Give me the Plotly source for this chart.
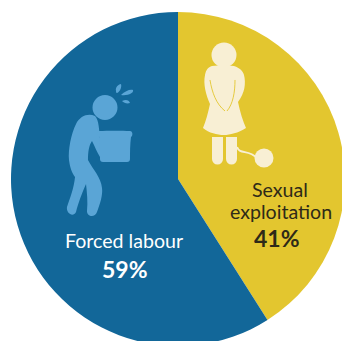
import plotly.graph_objects as go

categories = ["Sexual<br>exploitation", "Forced labour"]
shares = [41, 59]
slice_colors = ["#E3C62F", "#126799"]

# The circle runs slightly past the right and bottom of the 342x341 view.
W, H = 346, 347
LIGHT_BLUE = "#5AA5D6"
CREAM = "#F8EFD4"
YELLOW = slice_colors[0]
BLUE = slice_colors[1]
INK = "#2E2A18"


def px(x):
    return x / W


def py(y):
    return 1 - y / H


def path(points, close=True):
    parts = [f"{'M' if i == 0 else 'L'} {px(x):.4f} {py(y):.4f}" for i, (x, y) in enumerate(points)]
    return " ".join(parts) + (" Z" if close else "")


def curve(start, *segments, close=True):
    # Each segment is (c1, c2, end) of a cubic Bezier, all in pixel units.
    s = f"M {px(start[0]):.4f} {py(start[1]):.4f}"
    for c1, c2, e in segments:
        s += f" C {px(c1[0]):.4f} {py(c1[1]):.4f} {px(c2[0]):.4f} {py(c2[1]):.4f} {px(e[0]):.4f} {py(e[1]):.4f}"
    return s + (" Z" if close else "")


def filled(p, color):
    return dict(type="path", xref="paper", yref="paper", path=p, fillcolor=color, line=dict(width=0), layer="above")


def stroked(p, color, width):
    return dict(type="path", xref="paper", yref="paper", path=p, line=dict(color=color, width=width), layer="above")


def disc(cx, cy, r, color):
    return dict(type="circle", xref="paper", yref="paper", x0=px(cx - r), x1=px(cx + r),
                y0=py(cy + r), y1=py(cy - r), fillcolor=color, line=dict(width=0), layer="above")


shapes = [
    # Labourer carrying a box
    disc(105, 107.5, 12.5, LIGHT_BLUE),
    filled(curve((95, 116), ((88, 113), (80, 116), (76, 124)), ((71, 134), (68, 150), (69, 160)),
                 ((70, 168), (72, 173), (75, 177)), ((74, 188), (70, 198), (67, 207)),
                 ((66, 213), (73, 218), (76, 212)), ((78, 204), (82, 193), (86, 184)),
                 ((87, 193), (88, 202), (87, 211)), ((87, 217), (95, 218), (97, 212)),
                 ((100, 204), (103, 195), (102, 188)), ((101, 177), (93, 170), (88, 160)),
                 ((88, 152), (89, 145), (92, 141)), ((95, 147), (97, 152), (100, 157)),
                 ((100, 150), (100, 142), (100, 138)), ((99, 130), (99, 120), (95, 116))), LIGHT_BLUE),
    filled(curve((99, 131), ((108, 130.5), (122, 130.5), (130, 131)), ((133, 131), (133, 136), (131, 137)),
                 ((130, 145), (130, 152), (130, 159)), ((130, 161), (129, 162), (127, 162)),
                 ((118, 162), (110, 162), (103, 162)), ((101, 162), (100, 161), (100, 159)),
                 ((100, 152), (100, 145), (100, 137)), ((96, 136), (96, 131), (99, 131))), LIGHT_BLUE),
    # Sweat drops
    filled(curve((116, 91), ((115, 87), (119, 84), (121, 84)), ((122, 87), (120, 92), (117, 93)),
                 ((116, 93), (116, 92), (116, 91))), LIGHT_BLUE),
    filled(curve((121, 95), ((125, 91), (130, 89), (133, 90)), ((134, 93), (128, 96), (121, 95))), LIGHT_BLUE),
    filled(curve((122, 101), ((126, 99), (129, 100), (130, 103)), ((127, 104), (124, 103), (122, 101))), LIGHT_BLUE),
    # Woman with ball and chain
    disc(224, 55, 12.5, CREAM),
    filled(curve((212, 66), ((219, 65), (228, 65), (234, 66)), ((240, 68), (243, 71), (244, 75)),
                 ((246, 83), (245, 93), (238, 102)), ((240, 112), (243, 121), (246, 128)),
                 ((238, 133), (230, 135), (224, 135)), ((217, 135), (209, 133), (203, 128)),
                 ((206, 121), (208, 113), (210, 104)), ((206, 95), (203, 84), (205, 75)),
                 ((206, 70), (208, 67), (212, 66))), CREAM),
    stroked(curve((210, 80), ((212, 92), (216, 104), (225, 111)), close=False), YELLOW, 0.9),
    stroked(curve((235, 80), ((235, 92), (233, 104), (227, 111)), close=False), YELLOW, 0.9),
    stroked(path([(217.5, 137), (217.5, 159)], close=False), CREAM, 11),
    stroked(path([(231.5, 137), (231.5, 159)], close=False), CREAM, 11),
    disc(217.5, 159, 5.5, CREAM),
    disc(231.5, 159, 5.5, CREAM),
    stroked(curve((237, 147), ((240, 155), (248, 149), (257, 158)), close=False), CREAM, 2),
    disc(264, 158, 9.5, CREAM),
]

fig = go.Figure(
    go.Pie(
        labels=categories,
        values=shares,
        sort=False,
        direction="clockwise",
        rotation=0,
        marker=dict(colors=slice_colors, line=dict(width=0)),
        textinfo="none",
        hoverinfo="label+percent",
        domain=dict(x=[11 / W, 345 / W], y=[1 - 346 / H, 1 - 12 / H]),
        showlegend=False,
    )
)


def label(x, y, text, color, size, bold=False):
    return dict(x=px(x), y=py(y), xref="paper", yref="paper", text=f"<b>{text}</b>" if bold else text,
                showarrow=False, font=dict(family="Lato, Open Sans, sans-serif", size=size, color=color),
                xanchor="center", yanchor="middle", align="center")


fig.update_layout(
    width=W,
    height=H,
    margin=dict(l=0, r=0, t=0, b=0),
    paper_bgcolor="white",
    shapes=shapes,
    annotations=[
        label(280, 190, "Sexual", INK, 19.6),
        label(281, 212, "exploitation", INK, 19.6),
        label(277, 238, f"{shares[0]}%", INK, 23, True),
        label(124, 240, "Forced labour", "white", 19.6),
        label(124.5, 269, f"{shares[1]}%", "white", 23, True),
    ],
)

# The page stays at the window size; whatever runs past it is simply cut off.
fig.write_html(
    "out.html",
    post_script="document.documentElement.style.overflow='hidden';document.body.style.overflow='hidden';",
)
